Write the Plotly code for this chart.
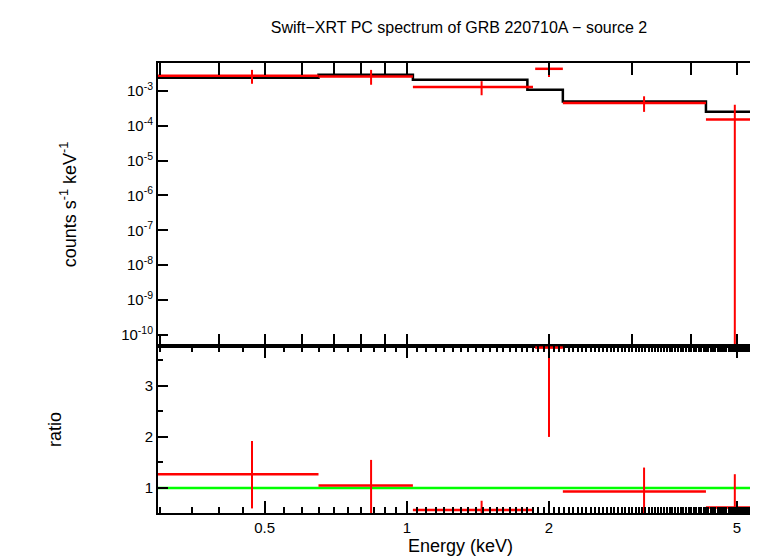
import plotly.graph_objects as go
from plotly.subplots import make_subplots

# spectrum bins (keV)
e_lo = [0.297, 0.65, 1.03, 1.87, 2.14, 4.3]
e_hi = [0.65, 1.03, 1.85, 2.14, 4.3, 5.68]
e_mid = [0.47, 0.84, 1.44, 2.0, 3.18, 4.95]
rate = [2.7e-3, 2.6e-3, 1.3e-3, 4.3e-3, 4.5e-4, 1.5e-4]
rate_lo = [1.6e-3, 1.5e-3, 7.5e-4, 2.5e-3, 2.5e-4, 1e-11]
rate_hi = [4.0e-3, 4.0e-3, 1.9e-3, 6.0e-3, 7.0e-4, 4.0e-4]
ratio = [1.27, 1.05, 0.57, 3.75, 0.93, 0.62]
ratio_lo = [0.6, 0.5, 0.4, 2.0, 0.5, 0.3]
ratio_hi = [1.92, 1.55, 0.75, 3.8, 1.4, 1.27]
model_x = [0.297, 0.65, 1.03, 1.80, 2.14, 4.3, 5.68]
model_y = [2.4e-3, 2.9e-3, 2.1e-3, 1.07e-3, 5.0e-4, 2.5e-4, 2.5e-4]

fig = make_subplots(rows=2, cols=1, shared_xaxes=True, vertical_spacing=0,
                    row_heights=[0.629, 0.371])

ex_plus = [h - m for h, m in zip(e_hi, e_mid)]
ex_minus = [m - l for m, l in zip(e_mid, e_lo)]
red = "#ff0000"

fig.add_trace(go.Scatter(x=model_x, y=model_y, mode="lines", line=dict(color="black", width=2.5, shape="hv")), 1, 1)
fig.add_trace(go.Scatter(
    x=e_mid, y=rate, mode="markers", marker=dict(size=1, color=red),
    error_x=dict(type="data", array=ex_plus, arrayminus=ex_minus, color=red, thickness=2.5, width=0),
    error_y=dict(type="data", array=[h - r for h, r in zip(rate_hi, rate)],
                 arrayminus=[r - l for r, l in zip(rate, rate_lo)], color=red, thickness=2, width=0)), 1, 1)
fig.add_trace(go.Scatter(x=[0.297, 5.68], y=[1, 1], mode="lines", line=dict(color="#00ff00", width=2.5)), 2, 1)
fig.add_trace(go.Scatter(
    x=e_mid, y=ratio, mode="markers", marker=dict(size=1, color=red),
    error_x=dict(type="data", array=ex_plus, arrayminus=ex_minus, color=red, thickness=2.5, width=0),
    error_y=dict(type="data", array=[h - r for h, r in zip(ratio_hi, ratio)],
                 arrayminus=[r - l for r, l in zip(ratio, ratio_lo)], color=red, thickness=2, width=0)), 2, 1)

axis_style = dict(showline=True, linecolor="black", linewidth=2, mirror="ticks", ticks="inside",
                  tickcolor="black", tickwidth=1.5, showgrid=False, zeroline=False, automargin=False)
xr = [-0.527, 0.7543]
fig.update_xaxes(type="log", range=xr, ticklen=12,
                 minor=dict(ticks="inside", ticklen=6, tickcolor="black"), **axis_style)
fig.update_xaxes(tickvals=[0.5, 1, 2, 5], ticktext=["0.5", "1", "2", "5"],
                 title=dict(text="Energy (keV)", standoff=2), row=2, col=1)
fig.update_xaxes(showticklabels=False, row=1, col=1)

exps = list(range(-10, -2))
fig.update_yaxes(type="log", range=[-10.32, -2.2], tickvals=[10 ** e for e in exps],
                 ticktext=["10<sup>%d</sup>" % e for e in exps], ticklen=10,
                 title=dict(text="counts s<sup>-1</sup> keV<sup>-1</sup>", standoff=40),
                 row=1, col=1, **axis_style)
fig.update_yaxes(range=[0.51, 3.78], tickvals=[1, 2, 3], ticklen=10,
                 minor=dict(ticks="inside", ticklen=5, dtick=0.5, tickcolor="black"),
                 title=dict(text="ratio", standoff=78), row=2, col=1, **axis_style)

fig.update_layout(
    width=758, height=556, showlegend=False,
    plot_bgcolor="white", paper_bgcolor="white",
    margin=dict(l=150, r=3, t=55, b=51),
    font=dict(family="Liberation Sans, Arial, sans-serif", size=15, color="black"),
    title=dict(text="Swift\u2212XRT PC spectrum of GRB 220710A \u2212 source 2", x=0.595, y=0.975,
               xanchor="center", font=dict(size=16)),
)
fig.write_html("out.html")
